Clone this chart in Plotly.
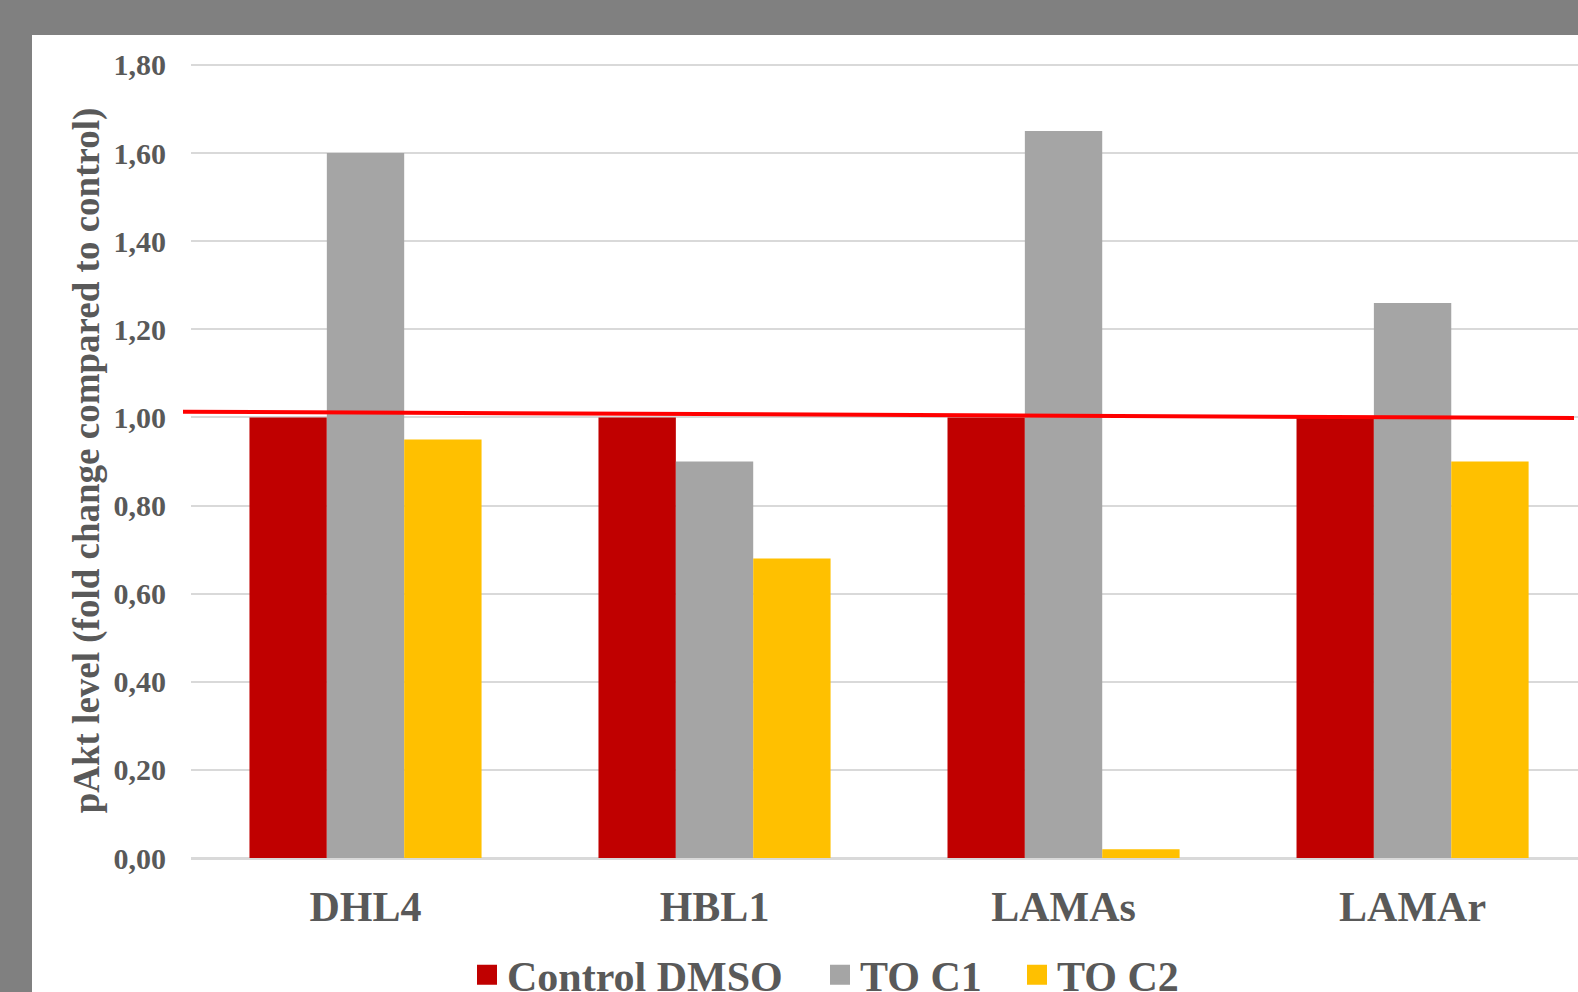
import plotly.graph_objects as go

categories = ["DHL4", "HBL1", "LAMAs", "LAMAr"]
control_dmso = [1.00, 1.00, 1.00, 1.00]
to_c1 = [1.60, 0.90, 1.65, 1.26]
to_c2 = [0.95, 0.68, 0.02, 0.90]
series_names = ["Control DMSO", "TO C1", "TO C2"]
series_colors = ["#C00000", "#A5A5A5", "#FFC000"]
y_ticks = [0.0, 0.2, 0.4, 0.6, 0.8, 1.0, 1.2, 1.4, 1.6, 1.8]
ref_line = [1.013, 0.9986]

W, H = 1578, 992
L, R, T, B = 191, 0, 63, 134
PW = W - L - R
PH = H - T - B

def px_x(p):
    return (p - L) / PW

def px_y(p):
    return (H - B - p) / PH

FONT = "Liberation Serif, Times New Roman, serif"
TXT = "#595959"

fig = go.Figure()
values = [control_dmso, to_c1, to_c2]
for name, col, vals in zip(series_names, series_colors, values):
    fig.add_trace(go.Bar(x=categories, y=vals, name=name, marker=dict(color=col, line=dict(width=0)),
                         showlegend=False))

legend_ids = ["legend", "legend2", "legend3"]
legend_x = [467, 820, 1017]
for name, col, lid in zip(series_names, series_colors, legend_ids):
    fig.add_trace(go.Scatter(x=[None], y=[None], mode="markers", name=name, legend=lid,
                             marker=dict(symbol="square", size=16, color=col, line=dict(color=col, width=4))))

leg_common = dict(orientation="h", yanchor="middle", xanchor="left", bgcolor="rgba(0,0,0,0)",
                  font=dict(family=FONT, size=42, color=TXT, weight="bold"), borderwidth=0)
layout_leg = {}
for lid, lx in zip(legend_ids, legend_x):
    layout_leg[lid] = dict(x=px_x(lx), y=px_y(975), **leg_common)

fig.update_layout(
    width=W, height=H,
    margin=dict(l=L, r=R, t=T, b=B, autoexpand=False),
    paper_bgcolor="#808080", plot_bgcolor="white",
    separators=", ",
    barmode="group", bargap=0.335, bargroupgap=0,
    font=dict(family=FONT, color=TXT),
    **layout_leg,
)

fig.update_xaxes(range=[-0.5, 3.474], showgrid=False, showline=False, ticks="",
                 tickfont=dict(family=FONT, size=42, color=TXT, weight="bold"),
                 ticklabelstandoff=20, automargin=False)
fig.update_yaxes(range=[0, 1.8045], tickvals=y_ticks, tickformat=".2f",
                 showgrid=True, gridcolor="#D9D9D9", gridwidth=1.5,
                 zeroline=True, zerolinecolor="#D9D9D9", zerolinewidth=2.5,
                 showline=False, ticks="", ticklabelstandoff=24,
                 tickfont=dict(family=FONT, size=30, color=TXT, weight="bold"),
                 title=dict(text="pAkt level (fold change compared to control)", standoff=2,
                            font=dict(family=FONT, size=37, color=TXT, weight="bold")),
                 automargin=False)

# white chart background panel within the grey frame
fig.add_shape(type="rect", xref="paper", yref="paper", x0=px_x(32), x1=px_x(1600),
              y0=px_y(1000), y1=px_y(35), fillcolor="white", line=dict(width=0), layer="below")

# red reference line
fig.add_shape(type="line", xref="paper", yref="y", x0=px_x(183), x1=px_x(1574),
              y0=ref_line[0], y1=ref_line[1], line=dict(color="#FF0000", width=4), layer="above")

fig.write_html("out.html")
